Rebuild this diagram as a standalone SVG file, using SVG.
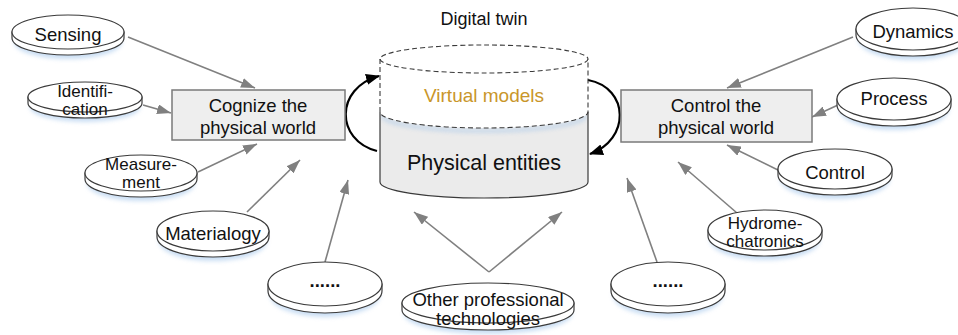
<svg xmlns="http://www.w3.org/2000/svg" width="958" height="335" viewBox="0 0 958 335">
  <style>
    .lbl { font-family: "Liberation Sans", Arial, sans-serif; font-size: 18.5px; fill: #111; text-anchor: middle; }
    .two { font-size: 17px; }
    .disk { fill: #ffffff; stroke: #3a3a3a; stroke-width: 1.2; }
    .glow { fill: #9fc3ea; opacity: 0.55; filter: url(#soft); }
    .box { fill: #eeeeee; stroke: #7a7a7a; stroke-width: 1.5; }
    .feed { stroke: #808080; stroke-width: 1.6; fill: none; marker-end: url(#grayHead); }
    .loop { stroke: #000; stroke-width: 2.2; fill: none; marker-end: url(#blackHead); }
    .dash { stroke: #3a3a3a; stroke-width: 1.1; stroke-dasharray: 5 3; fill: none; }
    .solid { stroke: #3a3a3a; stroke-width: 1.2; fill: none; }
  </style>
  <defs>
    <filter id="soft" x="-20%" y="-50%" width="140%" height="200%">
      <feGaussianBlur stdDeviation="2.2"/>
    </filter>
    <clipPath id="lowerPart">
      <path d="M380,112 A104,16 0 0 0 588,112 V182 A104,16 0 0 1 380,182 Z"/>
    </clipPath>
    <marker id="grayHead" viewBox="0 0 14 10" refX="14" refY="5" markerWidth="14" markerHeight="10" markerUnits="userSpaceOnUse" orient="auto">
      <path d="M0,0 L14,5 L0,10 Z" fill="#808080"/>
    </marker>
    <marker id="blackHead" viewBox="0 0 14 11" refX="13" refY="5.5" markerWidth="14" markerHeight="11" markerUnits="userSpaceOnUse" orient="auto">
      <path d="M0,0 L14,5.5 L0,11 Z" fill="#000"/>
    </marker>
  </defs>

  <rect width="958" height="335" fill="#ffffff"/>

  <!-- connectors -->
  <g id="connectors">
    <line class="feed" x1="128" y1="37" x2="255" y2="88"/>
    <line class="feed" x1="143" y1="105" x2="171" y2="113"/>
    <line class="feed" x1="198" y1="172" x2="257" y2="144"/>
    <line class="feed" x1="247" y1="212" x2="300" y2="160"/>
    <line class="feed" x1="325" y1="262" x2="348" y2="180"/>
    <line class="feed" x1="489" y1="272" x2="414" y2="212"/>
    <line class="feed" x1="489" y1="272" x2="562" y2="212"/>
    <line class="feed" x1="657" y1="262" x2="627" y2="178"/>
    <line class="feed" x1="737" y1="213" x2="678" y2="162"/>
    <line class="feed" x1="782" y1="172" x2="727" y2="145"/>
    <line class="feed" x1="838" y1="105" x2="812" y2="117"/>
    <line class="feed" x1="853" y1="37" x2="727" y2="88"/>
    <path class="loop" d="M377,151 C335,140 335,88 379,76"/>
    <path class="loop" d="M588,80 C630,88 630,140 590,154"/>
  </g>

  <!-- digital twin cylinder -->
  <g id="digital-twin">
    <text class="lbl" x="484" y="25" style="font-size:18px">Digital twin</text>
    <path d="M380,112 A104,16 0 0 0 588,112 V182 A104,16 0 0 1 380,182 Z" fill="#ebebeb"/>
    <path d="M382,115 A102,16 0 0 0 586,115" stroke="#9fc3ea" stroke-width="3" fill="none" opacity="0.6" filter="url(#soft)" clip-path="url(#lowerPart)"/>
    <path class="solid" d="M380,112 V182 A104,16 0 0 0 588,182 V112"/>
    <ellipse class="dash" cx="484" cy="59" rx="104" ry="14"/>
    <path class="dash" d="M380,59 V112 A104,16 0 0 0 588,112 V59"/>
    <text class="lbl" x="484" y="102" style="font-size:19px;fill:#c9962a">Virtual models</text>
    <text class="lbl" x="484" y="170" style="font-size:21.5px">Physical entities</text>
  </g>

  <!-- task boxes -->
  <g id="cognize">
    <rect class="box" x="172" y="90" width="173" height="50"/>
    <text class="lbl" x="258" y="112">Cognize the</text>
    <text class="lbl" x="258" y="134">physical world</text>
  </g>
  <g id="control-world">
    <rect class="box" x="621" y="90" width="191" height="52"/>
    <text class="lbl" x="716" y="112">Control the</text>
    <text class="lbl" x="716" y="134">physical world</text>
  </g>

  <!-- technology disks -->
  <g id="sensing">
    <ellipse class="glow" cx="68" cy="42" rx="54" ry="17"/>
    <path class="disk" d="M12,32 V38 A56,17 0 0 0 124,38 V32 Z"/>
    <ellipse class="disk" cx="68" cy="32" rx="56" ry="17"/>
    <text class="lbl" x="68" y="41">Sensing</text>
  </g>
  <g id="identification">
    <ellipse class="glow" cx="85" cy="107" rx="55" ry="15"/>
    <path class="disk" d="M28,97 V103 A57,15 0 0 0 142,103 V97 Z"/>
    <ellipse class="disk" cx="85" cy="97" rx="57" ry="15"/>
    <text class="lbl two" x="85" y="97">Identifi-</text>
    <text class="lbl two" x="85" y="115">cation</text>
  </g>
  <g id="measurement">
    <ellipse class="glow" cx="141" cy="183" rx="54" ry="18"/>
    <path class="disk" d="M85,173 V179 A56,18 0 0 0 197,179 V173 Z"/>
    <ellipse class="disk" cx="141" cy="173" rx="56" ry="18"/>
    <text class="lbl two" x="141" y="170">Measure-</text>
    <text class="lbl two" x="141" y="188">ment</text>
  </g>
  <g id="materialogy">
    <ellipse class="glow" cx="213" cy="241" rx="54" ry="20"/>
    <path class="disk" d="M157,231 V237 A56,20 0 0 0 269,237 V231 Z"/>
    <ellipse class="disk" cx="213" cy="231" rx="56" ry="20"/>
    <text class="lbl" x="213" y="240">Materialogy</text>
  </g>
  <g id="more-left">
    <ellipse class="glow" cx="325" cy="295" rx="55" ry="22"/>
    <path class="disk" d="M268,284 V291 A57,22 0 0 0 382,291 V284 Z"/>
    <ellipse class="disk" cx="325" cy="284" rx="57" ry="22"/>
    <text class="lbl" x="325" y="287" font-weight="bold">......</text>
  </g>
  <g id="other-tech">
    <ellipse class="glow" cx="488" cy="314" rx="84" ry="20"/>
    <path class="disk" d="M402,303 V310 A86,20 0 0 0 574,310 V303 Z"/>
    <ellipse class="disk" cx="488" cy="303" rx="86" ry="20"/>
    <text class="lbl" x="488" y="306">Other professional</text>
    <text class="lbl" x="488" y="325">technologies</text>
  </g>
  <g id="more-right">
    <ellipse class="glow" cx="668" cy="295" rx="55" ry="22"/>
    <path class="disk" d="M611,284 V291 A57,22 0 0 0 725,291 V284 Z"/>
    <ellipse class="disk" cx="668" cy="284" rx="57" ry="22"/>
    <text class="lbl" x="668" y="287" font-weight="bold">......</text>
  </g>
  <g id="hydromechatronics">
    <ellipse class="glow" cx="765" cy="240" rx="55" ry="20"/>
    <path class="disk" d="M708,230 V236 A57,20 0 0 0 822,236 V230 Z"/>
    <ellipse class="disk" cx="765" cy="230" rx="57" ry="20"/>
    <text class="lbl two" x="765" y="229">Hydrome-</text>
    <text class="lbl two" x="765" y="247">chatronics</text>
  </g>
  <g id="control">
    <ellipse class="glow" cx="835" cy="179" rx="55" ry="20"/>
    <path class="disk" d="M778,169 V175 A57,20 0 0 0 892,175 V169 Z"/>
    <ellipse class="disk" cx="835" cy="169" rx="57" ry="20"/>
    <text class="lbl" x="835" y="179">Control</text>
  </g>
  <g id="process">
    <ellipse class="glow" cx="894" cy="109" rx="55" ry="21"/>
    <path class="disk" d="M837,99 V105 A57,21 0 0 0 951,105 V99 Z"/>
    <ellipse class="disk" cx="894" cy="99" rx="57" ry="21"/>
    <text class="lbl" x="894" y="105">Process</text>
  </g>
  <g id="dynamics">
    <ellipse class="glow" cx="913" cy="39" rx="55" ry="21"/>
    <path class="disk" d="M856,29 V35 A57,21 0 0 0 970,35 V29 Z"/>
    <ellipse class="disk" cx="913" cy="29" rx="57" ry="21"/>
    <text class="lbl" x="913" y="38">Dynamics</text>
  </g>
</svg>
